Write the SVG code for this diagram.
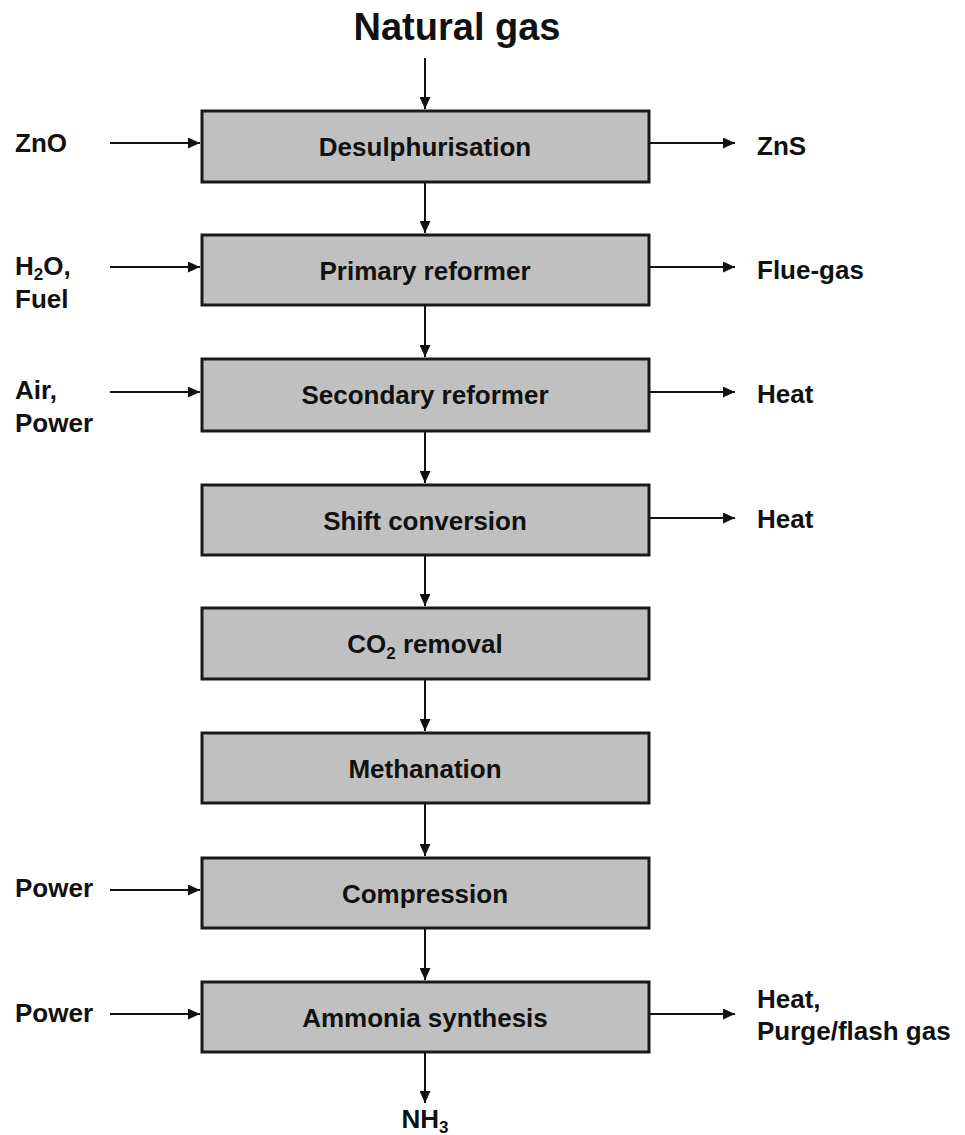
<svg xmlns="http://www.w3.org/2000/svg" width="965" height="1135" viewBox="0 0 965 1135">
<style>
text{font-family:"Liberation Sans",Arial,sans-serif;font-weight:bold;fill:#111;font-size:26px}
.box{fill:#c0c0c0;stroke:#1a1a1a;stroke-width:3}
.lbl{text-anchor:middle}
.c line{stroke:#111;stroke-width:2;marker-end:url(#ah)}
</style>
<defs>
<marker id="ah" markerUnits="userSpaceOnUse" markerWidth="13" markerHeight="11" refX="12" refY="5.5" orient="auto">
<path d="M0,0 L12,5.5 L0,11 z" fill="#111"/>
</marker>
</defs>
<rect width="965" height="1135" fill="#fff"/>
<text x="457" y="40" class="lbl" style="font-size:38px">Natural gas</text>

<g id="n1"><rect class="box" x="202" y="111" width="447" height="71"/><text class="lbl" x="425" y="156">Desulphurisation</text></g>
<g id="n2"><rect class="box" x="202" y="235" width="447" height="70"/><text class="lbl" x="425" y="280">Primary reformer</text></g>
<g id="n3"><rect class="box" x="202" y="359" width="447" height="72"/><text class="lbl" x="425" y="404">Secondary reformer</text></g>
<g id="n4"><rect class="box" x="202" y="485" width="447" height="70"/><text class="lbl" x="425" y="530">Shift conversion</text></g>
<g id="n5"><rect class="box" x="202" y="608" width="447" height="71"/><text class="lbl" x="425" y="653">CO<tspan style="font-size:17px" dy="6">2</tspan><tspan dy="-6"> removal</tspan></text></g>
<g id="n6"><rect class="box" x="202" y="733" width="447" height="70"/><text class="lbl" x="425" y="778">Methanation</text></g>
<g id="n7"><rect class="box" x="202" y="858" width="447" height="70"/><text class="lbl" x="425" y="903">Compression</text></g>
<g id="n8"><rect class="box" x="202" y="982" width="447" height="70"/><text class="lbl" x="425" y="1027">Ammonia synthesis</text></g>

<g id="labels">
<text x="15" y="152">ZnO</text>
<text x="15" y="275">H<tspan style="font-size:17px" dy="5">2</tspan><tspan dy="-5">O,</tspan></text>
<text x="15" y="308">Fuel</text>
<text x="15" y="399">Air,</text>
<text x="15" y="432">Power</text>
<text x="15" y="897">Power</text>
<text x="15" y="1022">Power</text>
<text x="757" y="155">ZnS</text>
<text x="757" y="279">Flue-gas</text>
<text x="757" y="403">Heat</text>
<text x="757" y="528">Heat</text>
<text x="757" y="1008">Heat,</text>
<text x="757" y="1040">Purge/flash gas</text>
<text x="425" y="1128" class="lbl">NH<tspan style="font-size:17px" dy="5">3</tspan></text>
</g>

<g id="connectors" class="c">
<line x1="425" y1="58" x2="425" y2="109"/>
<line x1="425" y1="182" x2="425" y2="233"/>
<line x1="425" y1="305" x2="425" y2="357"/>
<line x1="425" y1="431" x2="425" y2="483"/>
<line x1="425" y1="555" x2="425" y2="606"/>
<line x1="425" y1="679" x2="425" y2="731"/>
<line x1="425" y1="803" x2="425" y2="856"/>
<line x1="425" y1="928" x2="425" y2="980"/>
<line x1="425" y1="1052" x2="425" y2="1103"/>
<line x1="110" y1="143" x2="200" y2="143"/>
<line x1="110" y1="267" x2="200" y2="267"/>
<line x1="110" y1="392" x2="200" y2="392"/>
<line x1="110" y1="890" x2="200" y2="890"/>
<line x1="110" y1="1014" x2="200" y2="1014"/>
<line x1="650" y1="143" x2="735" y2="143"/>
<line x1="650" y1="267" x2="735" y2="267"/>
<line x1="650" y1="392" x2="735" y2="392"/>
<line x1="650" y1="518" x2="735" y2="518"/>
<line x1="650" y1="1014" x2="735" y2="1014"/>
</g>
</svg>
